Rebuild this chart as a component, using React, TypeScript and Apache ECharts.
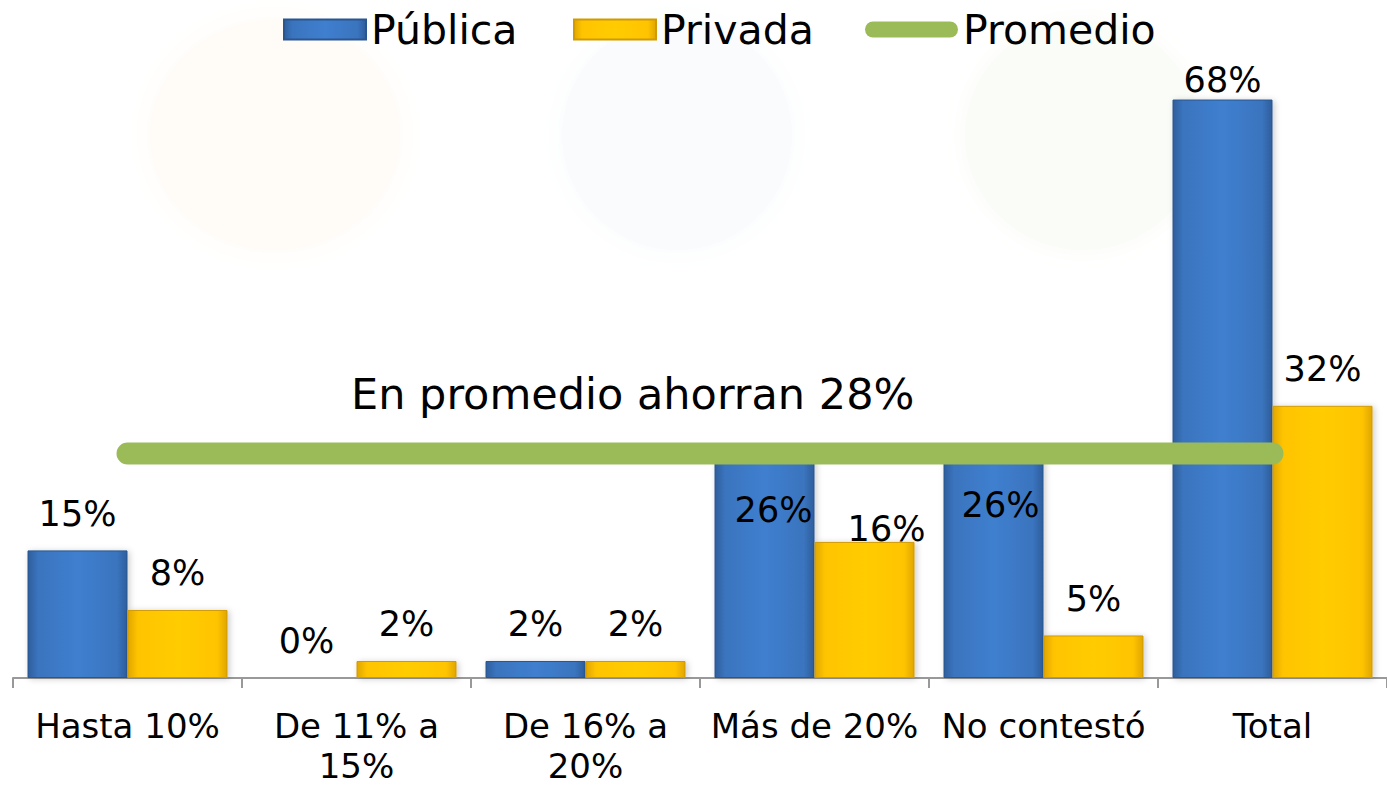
import React, { useEffect, useRef } from "react";
import * as echarts from "echarts";

const categories = ["Hasta 10%", "De 11% a\n15%", "De 16% a\n20%", "Más de 20%", "No contestó", "Total"];
const publica = [15, 0, 2, 26, 26, 68];
const privada = [8, 2, 2, 16, 5, 32];
const promedio = [26.4, 26.4, 26.4, 26.4, 26.4, 26.4];
const annotation = "En promedio ahorran 28%";

const FONT = "DejaVu Sans, Verdana, sans-serif";

export default function App() {
  const ref = useRef<HTMLDivElement>(null);
  useEffect(() => {
    if (!ref.current) return;
    const chart = echarts.init(ref.current, null, { renderer: "svg" });
    const blue = new echarts.graphic.LinearGradient(0, 0, 1, 0, [
      { offset: 0, color: "#2E5E9C" },
      { offset: 0.1, color: "#3A74BE" },
      { offset: 0.5, color: "#3F7FCF" },
      { offset: 0.9, color: "#3A74BE" },
      { offset: 1, color: "#2E5E9C" },
    ]);
    const yellow = new echarts.graphic.LinearGradient(0, 0, 1, 0, [
      { offset: 0, color: "#E0A600" },
      { offset: 0.1, color: "#FFC400" },
      { offset: 0.5, color: "#FFCC00" },
      { offset: 0.9, color: "#FFC400" },
      { offset: 1, color: "#E0A600" },
    ]);
    const baseLabel = {
      show: true,
      position: "top",
      distance: 19,
      fontSize: 35,
      fontFamily: FONT,
      color: "#000",
      formatter: "{c}%",
    };
    const pubData = publica.map((v, i) => {
      if (i === 3) return { value: v, label: { position: "insideTop", distance: 36, offset: [9, 0] } };
      if (i === 4) return { value: v, label: { position: "insideTop", distance: 31, offset: [7, 0] } };
      if (i === 5) return { value: v, label: { distance: 2 } };
      return v;
    });
    const priData = privada.map((v, i) => {
      if (i === 3) return { value: v, label: { distance: -5, offset: [22, 0] } };
      return v;
    });
    const legendCommon = {
      top: 9,
      itemHeight: 20,
      itemGap: 8,
      textStyle: { fontSize: 41, fontFamily: FONT, color: "#000" },
      padding: 0,
    };
    chart.setOption({
      animation: false,
      backgroundColor: "#fff",
      legend: [
        { ...legendCommon, left: 283, itemWidth: 82, data: [{ name: "Pública", icon: "rect" }] },
        { ...legendCommon, left: 573, itemWidth: 82, data: [{ name: "Privada", icon: "rect" }] },
        {
          ...legendCommon,
          left: 865,
          itemWidth: 93,
          itemHeight: 16,
          data: [{ name: "Promedio", icon: "path://M8,0 L85,0 A8,8 0 0 1 85,16 L8,16 A8,8 0 0 1 8,0 Z" }],
        },
      ],
      grid: { left: 13, width: 1381, top: 40, bottom: 101, containLabel: false },
      xAxis: {
        type: "category",
        data: categories,
        axisLine: { show: true, lineStyle: { color: "#999", width: 2 } },
        axisTick: { show: true, length: 10, lineStyle: { color: "#999", width: 2 } },
        axisLabel: { fontSize: 34, fontFamily: FONT, color: "#000", margin: 28, lineHeight: 40, interval: 0 },
      },
      yAxis: { type: "value", min: 0, max: 75, show: false, splitLine: { show: false } },
      graphic: [
        { type: "ellipse", shape: { cx: 275, cy: 135, rx: 125, ry: 115 }, style: { fill: "#FFFBF6", shadowBlur: 30, shadowColor: "#FFFBF6" }, z: -10, silent: true },
        { type: "ellipse", shape: { cx: 677, cy: 135, rx: 115, ry: 115 }, style: { fill: "#F9FBFD", shadowBlur: 30, shadowColor: "#F9FBFD" }, z: -10, silent: true },
        { type: "ellipse", shape: { cx: 1083, cy: 135, rx: 118, ry: 115 }, style: { fill: "#FAFCF8", shadowBlur: 30, shadowColor: "#FAFCF8" }, z: -10, silent: true },
        {
          type: "text",
          left: 351,
          top: 372,
          style: { text: annotation, fontSize: 43, fontFamily: FONT, fill: "#000" },
        },
      ],
      series: [
        {
          name: "Pública",
          type: "bar",
          data: pubData,
          barWidth: 100,
          barGap: "0%",
          itemStyle: {
            color: blue,
            borderColor: "#2A5690",
            borderWidth: 1,
            shadowBlur: 6,
            shadowColor: "rgba(0,0,0,0.2)",
            shadowOffsetX: 2,
            shadowOffsetY: 1,
          },
          label: baseLabel,
          z: 2,
        },
        {
          name: "Privada",
          type: "bar",
          data: priData,
          barWidth: 100,
          barGap: "0%",
          itemStyle: {
            color: yellow,
            borderColor: "#D19A00",
            borderWidth: 1,
            shadowBlur: 6,
            shadowColor: "rgba(0,0,0,0.2)",
            shadowOffsetX: 2,
            shadowOffsetY: 1,
          },
          label: baseLabel,
          z: 2,
        },
        {
          name: "Promedio",
          type: "line",
          data: promedio,
          symbol: "none",
          lineStyle: { color: "#9BBB59", width: 22, cap: "round" },
          itemStyle: { color: "#9BBB59" },
          z: 3,
        },
      ],
    });
    return () => chart.dispose();
  }, []);
  return (
    <div style={{ position: "fixed", left: 0, top: 0, width: 1387, height: 786, overflow: "hidden", background: "#fff" }}>
      <div ref={ref} style={{ width: 1387, height: 786 }} />
    </div>
  );
}
